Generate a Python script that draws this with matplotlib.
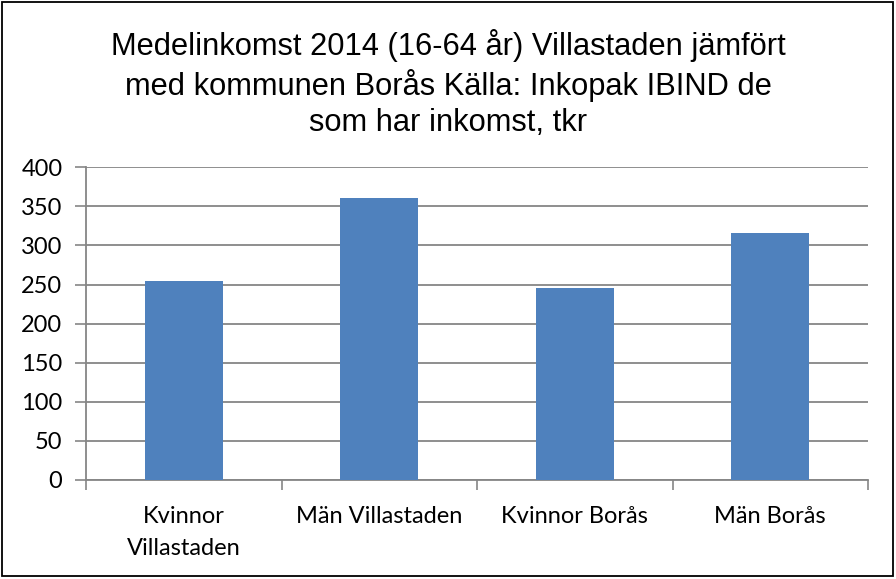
import matplotlib
matplotlib.use("Agg")
import matplotlib.pyplot as plt
from matplotlib.patches import Rectangle

categories = ["Kvinnor\nVillastaden", "Män Villastaden", "Kvinnor Borås", "Män Borås"]
values = [254, 361, 245, 316]
yticks = [0, 50, 100, 150, 200, 250, 300, 350, 400]
title = "Medelinkomst 2014 (16-64 år) Villastaden jämfört\nmed kommunen Borås Källa: Inkopak IBIND de\nsom har inkomst, tkr"

fig = plt.figure(figsize=(8.96, 5.79), dpi=100)
ax = fig.add_axes([86/896, (579-480)/579, (868-86)/896, (480-167.3)/579])

x = list(range(len(categories)))
ax.bar(x, values, width=0.40, color="#4F81BD", zorder=3)
ax.set_xlim(-0.5, len(categories) - 0.5)
ax.set_ylim(0, 400)
ax.set_yticks(yticks)
ax.set_yticklabels([str(v) for v in yticks], fontsize=17, family="Lato")
ax.set_xticks(x)
ax.set_xticklabels(categories, fontsize=17, family="Lato", linespacing=1.6, va="top")
ax.tick_params(axis="x", length=0, pad=19)
ax.set_xticks([i - 0.5 for i in range(len(categories) + 1)], minor=True)
ax.tick_params(axis="x", which="minor", length=7, color="#868686", width=1.2)
ax.tick_params(axis="y", length=8, color="#868686", width=1.2, pad=9)
ax.grid(axis="y", color="#868686", linewidth=1.3, zorder=0)
for s in ["top", "right"]:
    ax.spines[s].set_visible(False)
for s in ["left", "bottom"]:
    ax.spines[s].set_color("#868686")
    ax.spines[s].set_linewidth(1.3)

fig.text(0.5, 1 - 83.5/579, title, ha="center", va="center", fontsize=22.2,
         family="Liberation Sans", linespacing=1.25)
fig.patches.append(Rectangle((2/896, 3/579), 891/896, 574/579, transform=fig.transFigure,
                             fill=False, edgecolor="black", linewidth=1.3))
fig.savefig("out.png", dpi=100)
